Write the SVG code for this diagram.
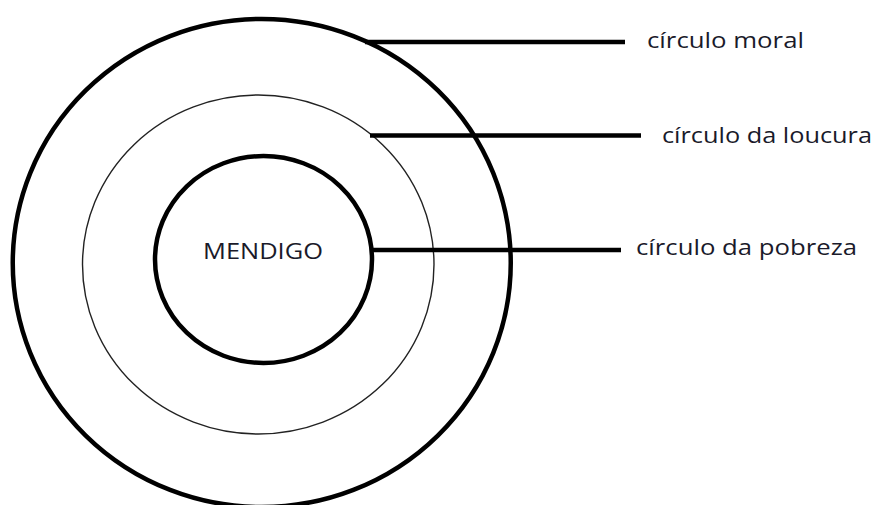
<svg xmlns="http://www.w3.org/2000/svg" width="877" height="505" viewBox="0 0 877 505">
<style>
.thick{fill:none;stroke:#000;stroke-width:4.5}
.thin{fill:none;stroke:#222;stroke-width:1.4}
.lbl{font-family:"Open Sans","Liberation Sans",sans-serif;font-size:21px;fill:#1a1a2a}
</style>
<rect width="877" height="505" fill="#fff"/>
<g id="outer"><ellipse class="thick" cx="261.75" cy="263" rx="249" ry="244"/></g>
<g id="middle"><ellipse class="thin" cx="258.25" cy="264.5" rx="175.75" ry="169.5"/></g>
<g id="inner"><ellipse class="thick" cx="263.5" cy="259.5" rx="108.5" ry="103.5"/>
<text class="lbl" x="263" y="259" text-anchor="middle" textLength="120" lengthAdjust="spacingAndGlyphs">MENDIGO</text></g>
<g id="connectors">
<line class="thick" x1="365" y1="42" x2="625" y2="42" stroke-width="5"/>
<line class="thick" x1="370" y1="135.5" x2="641" y2="135.5"/>
<line class="thick" x1="372" y1="250" x2="621" y2="250"/>
</g>
<g id="label-moral"><text class="lbl" x="647" y="48" textLength="157" lengthAdjust="spacingAndGlyphs">círculo moral</text></g>
<g id="label-loucura"><text class="lbl" x="662" y="143" textLength="210" lengthAdjust="spacingAndGlyphs">círculo da loucura</text></g>
<g id="label-pobreza"><text class="lbl" x="636" y="255" textLength="221" lengthAdjust="spacingAndGlyphs">círculo da pobreza</text></g>
</svg>
